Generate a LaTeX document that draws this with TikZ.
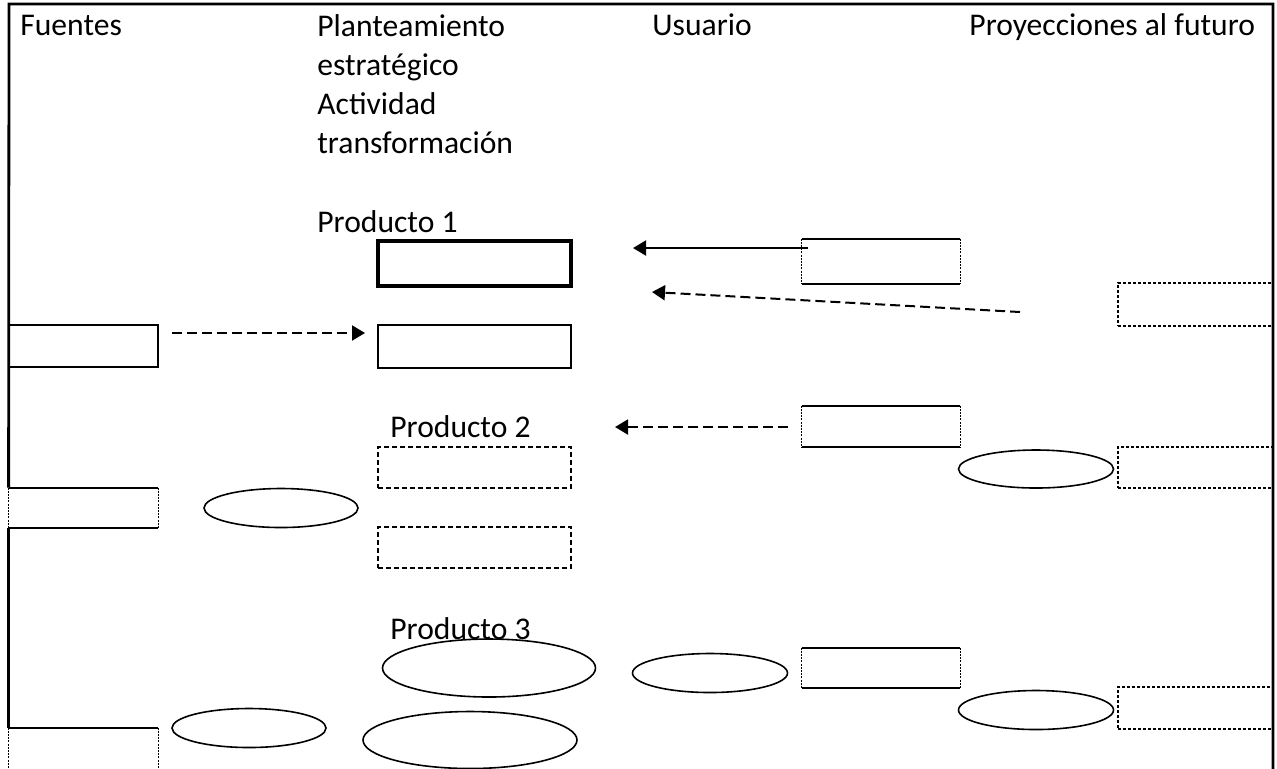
\documentclass[tikz,border=0pt]{standalone}
\usepackage{fontspec}
\setmainfont{Carlito}
\usetikzlibrary{arrows.meta,shapes.geometric}

\begin{document}
\begin{tikzpicture}[x=0.5pt,y=-0.5pt,
        font=\fontsize{15.8}{19.5}\selectfont,
        lbl/.style={anchor=base west,inner sep=0pt},
        caja/.style={rectangle,inner sep=0pt,draw,line width=1pt},
        gruesa/.style={caja,line width=2pt},
        punteada/.style={caja,dash pattern=on 2.5pt off 1.5pt},
        fina/.style={caja,dash pattern=on 1.5pt off 1pt},
        mixta/.style={rectangle,inner sep=0pt},
        elipse/.style={ellipse,draw,inner sep=0pt,line width=0.8pt},
        flecha/.style={line width=1pt,-{Triangle[length=6.5pt,width=7.5pt]}},
        discont/.style={flecha,dash pattern=on 5pt off 2.5pt}]
        	\useasboundingbox (0,0) rectangle (1277,768);

        	\node[lbl] (fuentes) at (20,35) {Fuentes};
        	\node[anchor=north west,align=left,inner sep=0pt] (plan) at (317,14)
        	  {Planteamiento\\estratégico\\Actividad\\transformación};
        	\node[lbl] (usuario) at (652,35) {Usuario};
        	\node[lbl] (proy) at (969,35) {Proyecciones al futuro};
        	\node[lbl] (prod1) at (317,232) {Producto 1};
        	\node[lbl] (prod2) at (390,437) {Producto 2};
        	\node[lbl] (prod3) at (390,639) {Producto 3};

        	\node[caja,minimum width=74.5pt,minimum height=21pt] (f1) at (83.5,346) {};
        	\node[mixta,minimum width=74.5pt,minimum height=20pt] (f2) at (83.5,508) {};
        	\node[mixta,minimum width=74.5pt,minimum height=22pt] (f3) at (83.5,750) {};
        	\node[gruesa,minimum width=96.5pt,minimum height=22.5pt] (p1a) at (474.5,263.5) {};
        	\node[caja,minimum width=96.5pt,minimum height=21.5pt] (p1b) at (474.5,346.5) {};
        	\node[punteada,minimum width=96.5pt,minimum height=20.5pt] (p2a) at (474.5,467.5) {};
        	\node[punteada,minimum width=96.5pt,minimum height=20.5pt] (p2b) at (474.5,547.5) {};
        	\node[mixta,minimum width=79pt,minimum height=22.5pt] (u1) at (881,261.5) {};
        	\node[mixta,minimum width=79pt,minimum height=20.5pt] (u2) at (881,426.5) {};
        	\node[mixta,minimum width=79pt,minimum height=20pt] (u3) at (881,668) {};
        	\node[fina,minimum width=77.5pt,minimum height=21.5pt] (r1) at (1195.5,304.5) {};
        	\node[fina,minimum width=77.5pt,minimum height=20.5pt] (r2) at (1195.5,467.5) {};
        	\node[fina,minimum width=77.5pt,minimum height=21pt] (r3) at (1195.5,708) {};

        	\node[elipse,minimum width=77pt,minimum height=19.5pt] (e1) at (281,508) {};
        	\node[elipse,minimum width=77pt,minimum height=19.5pt] (e2) at (249,728) {};
        	\node[elipse,minimum width=106.5pt,minimum height=29pt] (e3) at (489,668) {};
        	\node[elipse,minimum width=107pt,minimum height=28.5pt] (e4) at (470,740) {};
        	\node[elipse,minimum width=77.5pt,minimum height=19.5pt] (e5) at (710,673) {};
        	\node[elipse,minimum width=77.5pt,minimum height=19pt] (e6) at (1036,469) {};
        	\node[elipse,minimum width=77.5pt,minimum height=19.5pt] (e7) at (1036,710) {};

        	\foreach \n in {f2,f3,u1,u2,u3} {
        		\draw[line width=1pt] (\n.north west) -- (\n.north east)
        		  (\n.south west) -- (\n.south east);
        		\draw[line width=0.6pt,dash pattern=on 1pt off 0.6pt]
        		  (\n.north west) -- (\n.south west) (\n.north east) -- (\n.south east);
        	};

        	\coordinate (esq1) at (9,4);
        	\coordinate (esq2) at (1273,4);
        	\coordinate (esq3) at (1273,772);
        	\draw[line width=1.4pt] (f2.north west) -- (esq1) -- (esq2) -- (esq3);
        	\draw[line width=1.4pt] (f2.south west) -- (f3.north west);

        	\coordinate (a1s) at (808,248);
        	\coordinate (a1e) at (633,248);
        	\coordinate (a2s) at (1020,312);
        	\coordinate (a2e) at (652,292);
        	\coordinate (a3s) at (172,333);
        	\coordinate (a3e) at (365,333);
        	\coordinate (a4s) at (788,427);
        	\coordinate (a4e) at (615,427);
        	\draw[flecha] (a1s) -- (a1e);
        	\draw[discont] (a2s) -- (a2e);
        	\draw[discont] (a3s) -- (a3e);
        	\draw[discont] (a4s) -- (a4e);
\end{tikzpicture}
\end{document}
